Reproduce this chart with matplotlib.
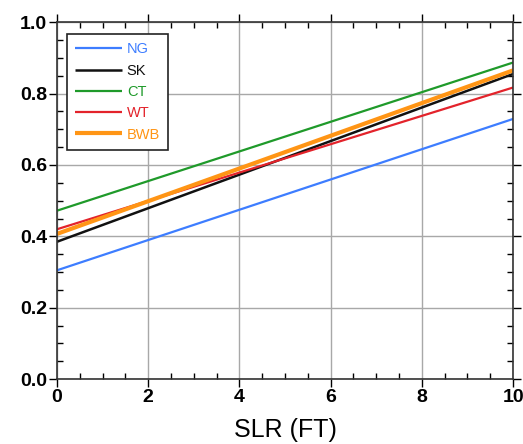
import matplotlib.pyplot as plt
from matplotlib.ticker import MultipleLocator
import numpy as np

plt.rcParams['font.family'] = ['Liberation Sans', 'DejaVu Sans']

# sea level rise (ft) at the ends of each line
slr = [0, 10]
series = ['NG', 'SK', 'CT', 'WT', 'BWB']
values = {
    'NG': [0.305, 0.729],
    'SK': [0.385, 0.855],
    'CT': [0.472, 0.887],
    'WT': [0.420, 0.817],
    'BWB': [0.407, 0.865],
}
colors = {'NG': '#3d7dff', 'SK': '#111111', 'CT': '#1f9a2a',
          'WT': '#e3232b', 'BWB': '#ff9515'}
widths = {'NG': 1.6, 'SK': 1.8, 'CT': 1.6, 'WT': 1.6, 'BWB': 3.0}

fig = plt.figure(figsize=(5.23, 4.44), dpi=100)
ax = fig.add_axes([0.109, 0.146, 0.872, 0.804])

for s in series:
    ax.plot(slr, values[s], color=colors[s], lw=widths[s], label=s,
            solid_capstyle='butt')

ax.set_xlim(0, 10)
ax.set_ylim(0, 1.0)
ax.xaxis.set_major_locator(MultipleLocator(2))
ax.xaxis.set_minor_locator(MultipleLocator(0.5))
ax.yaxis.set_major_locator(MultipleLocator(0.2))
ax.yaxis.set_minor_locator(MultipleLocator(0.05))
ax.yaxis.set_major_formatter(plt.FormatStrFormatter('%.1f'))
ax.grid(True, which='major', color='#a8a8a8', lw=1.0)

ax.tick_params(which='major', direction='out', length=6, width=1,
               labelsize=14, pad=1)
ax.tick_params(which='minor', direction='in', length=4, width=1,
               top=True, right=True)
ax.tick_params(which='major', top=True, right=True)
for lab in ax.get_xticklabels() + ax.get_yticklabels():
    lab.set_fontweight('bold')
for sp in ax.spines.values():
    sp.set_linewidth(1.2)
    sp.set_color('#333333')

ax.set_xlabel('SLR (FT)', fontsize=18, labelpad=9)

leg = ax.legend(loc='upper left', bbox_to_anchor=(0.022, 0.966),
                frameon=True, fancybox=False, edgecolor='#222222',
                fontsize=10.5, handlelength=3.2, handletextpad=0.35,
                labelspacing=0.5, borderpad=0.55, borderaxespad=0)
leg.get_frame().set_linewidth(1.2)
leg.get_frame().set_alpha(1)
for txt, s in zip(leg.get_texts(), series):
    txt.set_color(colors[s])

fig.savefig('out.png', dpi=100)
